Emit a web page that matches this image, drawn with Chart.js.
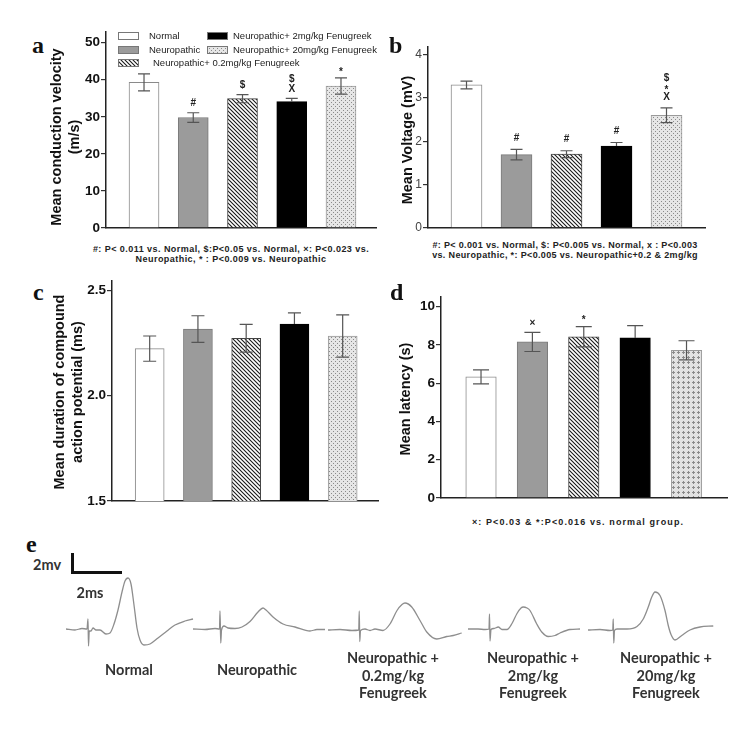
<!DOCTYPE html>
<html><head><meta charset="utf-8">
<script src="https://cdn.jsdelivr.net/npm/chart.js@4.4.1/dist/chart.umd.min.js"></script>
<style>
body{margin:0;background:#fff;width:748px;height:732px;position:relative;overflow:hidden;font-family:"Liberation Sans",Arial,sans-serif;}
canvas{position:absolute;}
.t{position:absolute;white-space:nowrap;color:#111;}
.lbl{font-family:"Liberation Serif","Times New Roman",serif;font-weight:bold;font-size:24px;line-height:24px;}
.yt{font-weight:bold;font-size:14.5px;transform:translate(-50%,-50%) rotate(-90deg);text-align:center;line-height:18px;}
.fn{font-weight:bold;font-size:9px;text-align:center;transform:translateX(-50%);line-height:10px;letter-spacing:0.45px;color:#222;}
.el{font-family:Lato,"Open Sans",sans-serif;font-weight:bold;font-size:14.5px;text-align:center;transform:translateX(-50%);line-height:17.5px;color:#333;}
.sb{position:absolute;background:#111;}
</style>
</head><body>
<canvas id="ca" width="317" height="217" style="left:61px;top:20px"></canvas>
<canvas id="cb" width="324" height="201" style="left:383px;top:35px"></canvas>
<canvas id="cc" width="313" height="241" style="left:67px;top:269px"></canvas>
<canvas id="cd" width="333" height="222" style="left:396px;top:285px"></canvas>

<canvas id="e0" width="140" height="80" style="left:66px;top:569px"></canvas>
<canvas id="e1" width="140" height="80" style="left:193px;top:569px"></canvas>
<canvas id="e2" width="140" height="80" style="left:328px;top:570px"></canvas>
<canvas id="e3" width="140" height="80" style="left:468px;top:569px"></canvas>
<canvas id="e4" width="140" height="80" style="left:588px;top:570px"></canvas>

<div class="t lbl" style="left:32px;top:33px">a</div>
<div class="t lbl" style="left:389px;top:33px">b</div>
<div class="t lbl" style="left:33px;top:280px">c</div>
<div class="t lbl" style="left:390px;top:280px">d</div>
<div class="t lbl" style="left:26px;top:532px">e</div>

<div class="t yt" style="left:65px;top:137px">Mean conduction velocity<br>(m/s)</div>
<div class="t yt" style="left:407px;top:140px">Mean Voltage (mV)</div>
<div class="t yt" style="left:68px;top:392px">Mean duration of compound<br>action potential (ms)</div>
<div class="t yt" style="left:405px;top:399px">Mean latency (s)</div>

<div class="t fn" style="left:231px;top:244px">#: P&lt; 0.011 vs. Normal, $:P&lt;0.05 vs. Normal, ×: P&lt;0.023 vs.<br>Neuropathic, * : P&lt;0.009 vs. Neuropathic</div>
<div class="t fn" style="left:565px;top:240px;letter-spacing:0.35px">#: P&lt; 0.001 vs. Normal, $: P&lt;0.005 vs. Normal, x : P&lt;0.003<br>vs. Neuropathic, *: P&lt;0.005 vs. Neuropathic+0.2 &amp; 2mg/kg</div>
<div class="t fn" style="left:578px;top:517px;letter-spacing:1.1px">×: P&lt;0.03 &amp; *:P&lt;0.016 vs. normal group.</div>

<div class="t el" style="left:33px;top:556px;transform:none">2mv</div>
<div class="t el" style="left:90px;top:584px">2ms</div>
<div class="sb" style="left:71px;top:553px;width:3px;height:21px"></div>
<div class="sb" style="left:71px;top:571px;width:51px;height:3px"></div>

<div class="t el" style="left:129px;top:661px">Normal</div>
<div class="t el" style="left:257px;top:661px">Neuropathic</div>
<div class="t el" style="left:393px;top:649px">Neuropathic +<br>0.2mg/kg<br>Fenugreek</div>
<div class="t el" style="left:533px;top:649px">Neuropathic +<br>2mg/kg<br>Fenugreek</div>
<div class="t el" style="left:666px;top:649px">Neuropathic +<br>20mg/kg<br>Fenugreek</div>

<script>
// ---------- data ----------
const categories = ["Normal", "Neuropathic", "Neuropathic+ 0.2mg/kg Fenugreek", "Neuropathic+ 2mg/kg Fenugreek", "Neuropathic+ 20mg/kg Fenugreek"];

const velocity = [39.3, 29.8, 34.9, 34.1, 38.3];
const velocityErr = [2.3, 1.3, 1.1, 0.9, 2.2];
const velocityMarks = ["", "#", "$", "$\nX", "*"];
const velocityTicks = [0, 10, 20, 30, 40, 50];
const velocityTickLabels = ["0", "10", "20", "30", "40", "50"];

const voltage = [3.30, 1.69, 1.70, 1.89, 2.60];
const voltageErr = [0.09, 0.12, 0.08, 0.08, 0.17];
const voltageMarks = ["", "#", "#", "#", "$\n*\nX"];
const voltageTicks = [0, 1, 2, 3, 4];
const voltageTickLabels = ["0", "1", "2", "3", "4"];

const duration = [2.223, 2.316, 2.272, 2.340, 2.283];
const durationErr = [0.060, 0.063, 0.066, 0.053, 0.100];
const durationMarks = ["", "", "", "", ""];
const durationTicks = [1.5, 2.0, 2.5];
const durationTickLabels = ["1.5", "2.0", "2.5"];

const latency = [6.33, 8.16, 8.43, 8.37, 7.72];
const latencyErr = [0.37, 0.50, 0.53, 0.64, 0.50];
const latencyMarks = ["", "×", "*", "", ""];
const latencyTicks = [0, 2, 4, 6, 8, 10];
const latencyTickLabels = ["0", "2", "4", "6", "8", "10"];

// compound action potential traces (time in ms from trace start, amplitude in mV from baseline)
const normalT = [0, 0.36, 0.64, 0.84, 0.88, 0.9, 0.93, 1.0, 1.08, 1.2, 1.36, 1.6, 1.76, 1.92, 2.08, 2.24, 2.36, 2.48, 2.6, 2.72, 2.84, 2.96, 3.12, 3.36, 3.68, 4.04, 4.36, 4.76, 5.08];
const normalV = [0, -0.1, 0.05, 0, 1.0, -1.7, -0.2, -0.2, 0.1, -0.1, -0.1, -0.5, -0.4, 0.5, 1.9, 3.7, 4.8, 5.1, 4.5, 2.4, 0.1, -1.1, -1.6, -1.5, -0.9, -0.2, 0.4, 0.8, 1.0];
const neuroT = [0, 0.48, 0.88, 1.06, 1.08, 1.11, 1.14, 1.24, 1.4, 1.68, 1.96, 2.28, 2.6, 2.8, 2.92, 3.2, 3.6, 4.08, 4.68, 4.96, 5.28];
const neuroV = [0, -0.05, 0.05, 0, 1.8, -1.4, -0.1, 0.3, 0.1, 0.05, 0.2, 0.75, 1.7, 2.1, 1.9, 1.2, 0.5, 0.2, -0.2, -0.05, -0.05];
const low02T = [0, 0.48, 0.96, 1.23, 1.25, 1.27, 1.3, 1.48, 1.68, 1.88, 2.2, 2.48, 2.76, 2.96, 3.08, 3.35, 3.68, 3.95, 4.35, 4.75, 5.01, 5.35];
const low02V = [0, 0.05, -0.05, 0, 1.9, -1.15, -0.05, 0.1, -0.05, 0.1, -0.05, 0.6, 1.95, 2.55, 2.7, 2.3, 0.95, -0.2, -0.9, -0.65, -0.55, -0.3];
const mid2T = [0, 0.4, 0.68, 0.84, 0.86, 0.88, 0.92, 1.04, 1.21, 1.36, 1.56, 1.76, 1.96, 2.12, 2.21, 2.36, 2.48, 2.75, 2.95, 3.21, 3.48, 3.68, 4.08, 4.48];
const mid2V = [0, 0, -0.05, 0, 1.5, -1.2, -0.05, 0.05, 0.2, -0.05, -0.05, 0.55, 1.55, 2.1, 2.2, 2.1, 1.85, 0.5, -0.3, -0.75, -0.65, -0.4, -0.05, 0];
const high20T = [0, 0.48, 0.88, 0.99, 1.01, 1.03, 1.06, 1.16, 1.56, 1.96, 2.21, 2.41, 2.55, 2.68, 2.88, 3.08, 3.21, 3.32, 3.48, 3.75, 4.08, 4.48, 5.01];
const high20V = [0, 0.05, -0.05, 0, 1.1, -1.3, -0.05, 0.1, 0.1, 0.35, 1.1, 2.3, 3.3, 3.8, 3.45, 1.95, 0.45, -0.45, -1.0, -0.55, 0, 0.3, 0.4];

// ---------- styles ----------
function makeTile(w, h, draw) {
  const c = document.createElement('canvas'); c.width = w; c.height = h;
  const g = c.getContext('2d'); draw(g);
  return document.createElement('canvas').getContext('2d').createPattern(c, 'repeat');
}
const hatch = makeTile(4, 4, g => {
  g.fillStyle = '#fff'; g.fillRect(0, 0, 4, 4);
  g.strokeStyle = '#1a1a1a'; g.lineWidth = 1.1;
  g.beginPath(); g.moveTo(-1, -1); g.lineTo(5, 5); g.moveTo(-1, 3); g.lineTo(1, 5); g.moveTo(3, -1); g.lineTo(5, 1); g.stroke();
});
const dots = makeTile(4, 4, g => {
  g.fillStyle = '#e6e6e6'; g.fillRect(0, 0, 4, 4);
  g.fillStyle = '#8a8a8a'; g.fillRect(0, 0, 1, 1); g.fillRect(2, 2, 1, 1);
});
const crosses = makeTile(5, 5, g => {
  g.fillStyle = '#e2e2e2'; g.fillRect(0, 0, 5, 5);
  g.fillStyle = '#8a8a8a'; g.fillRect(2, 1, 1, 3); g.fillRect(1, 2, 3, 1);
});
const BLACK = '#000000';
const fillsStd = ['#ffffff', '#9b9b9b', hatch, BLACK, dots];
const fillsD = ['#ffffff', '#9b9b9b', hatch, BLACK, crosses];
const borders = ['#8a8a8a', '#7a7a7a', '#444444', BLACK, '#9a9a9a'];

// ---------- plugins ----------
const errPlugin = {
  id: 'err',
  afterDatasetsDraw(chart, args, o) {
    const meta = chart.getDatasetMeta(0), ys = chart.scales.y, ctx = chart.ctx;
    const ds = chart.data.datasets[0];
    ctx.save();
    meta.data.forEach((bar, i) => {
      const v = ds.data[i].y, e = o.err[i], x = bar.x;
      const yt = ys.getPixelForValue(v + e), yb = ys.getPixelForValue(v - e), yv = ys.getPixelForValue(v);
      ctx.strokeStyle = o.color; ctx.lineWidth = 1.2;
      ctx.beginPath();
      ctx.moveTo(x, yt); ctx.lineTo(x, yv);
      ctx.moveTo(x - o.cap, yt); ctx.lineTo(x + o.cap, yt);
      if (ds.backgroundColor[i] !== BLACK) {
        ctx.moveTo(x, yv); ctx.lineTo(x, yb);
        ctx.moveTo(x - o.cap, yb); ctx.lineTo(x + o.cap, yb);
      }
      ctx.stroke();
      const m = o.marks[i];
      if (m) {
        const arr = m.split('\n');
        ctx.fillStyle = '#222'; ctx.font = o.markFont; ctx.textAlign = 'center'; ctx.textBaseline = 'middle';
        arr.forEach((s, k) => {
          const dy = s === '*' ? 3 : 0; // asterisk glyph sits high in the line box
          ctx.fillText(s, x, yt - o.gap - (arr.length - 1 - k) * o.step + dy);
        });
      }
    });
    ctx.restore();
  }
};
const legendPlugin = {
  id: 'boxLegend',
  afterDraw(chart, args, o) {
    const ctx = chart.ctx, ds = chart.data.datasets[0];
    ctx.save();
    o.items.forEach(it => {
      ctx.fillStyle = ds.backgroundColor[it.i];
      ctx.fillRect(it.x, it.y, 21, 8);
      ctx.strokeStyle = '#777'; ctx.lineWidth = 1;
      ctx.strokeRect(it.x + 0.5, it.y + 0.5, 20, 7);
      ctx.fillStyle = '#222'; ctx.font = '9.5px "Liberation Sans", Arial, sans-serif';
      ctx.textBaseline = 'middle'; ctx.textAlign = 'left';
      ctx.fillText(categories[it.i], it.tx, it.y + 4.5);
    });
    ctx.restore();
  }
};

function barChart(id, o) {
  return new Chart(document.getElementById(id).getContext('2d'), {
    type: 'bar',
    data: { datasets: [{
      label: o.name,
      data: o.values.map((v, i) => ({ x: i, y: v })),
      backgroundColor: o.fills, borderColor: borders, borderWidth: 1,
      barThickness: o.bar, borderSkipped: 'bottom'
    }] },
    options: {
      responsive: false, animation: false, events: [],
      layout: { padding: { top: 12, right: 2, bottom: 4, left: 0 } },
      plugins: {
        legend: { display: false }, tooltip: { enabled: false },
        err: { err: o.err, marks: o.marks, cap: o.cap, color: '#555', gap: o.gap, step: o.step, markFont: 'bold 10px "Liberation Sans", Arial, sans-serif' },
        boxLegend: o.legend || false
      },
      scales: {
        x: { type: 'linear', offset: false, min: o.xmin, max: o.xmax, ticks: { display: false }, grid: { display: false, offset: false },
             border: { color: '#222', width: 1.5 }, afterFit: s => { s.height = 0; } },
        y: { min: o.ymin, max: o.ymax,
             afterBuildTicks: s => { s.ticks = o.ticks.map(v => ({ value: v })); },
             ticks: { callback: (v, i) => o.tickLabels[i], font: o.tickFont, color: o.tickColor, padding: 1 },
             grid: { drawOnChartArea: false, drawTicks: true, tickLength: 5, color: '#333', lineWidth: 1.2 },
             border: { color: '#222', width: 1.5 },
             afterFit: s => { s.width = 45; } }
      }
    },
    plugins: [errPlugin, legendPlugin]
  });
}

const boldTick = { family: '"Liberation Sans", Arial, sans-serif', size: 13.5, weight: 'bold' };

barChart('ca', { name: 'Mean conduction velocity', values: velocity, err: velocityErr, marks: velocityMarks,
  ticks: velocityTicks, tickLabels: velocityTickLabels, ymin: 0, ymax: 52.9, xmin: -0.772, xmax: 4.711,
  bar: 30, cap: 6, gap: 9, step: 10.5, fills: fillsStd, tickFont: boldTick, tickColor: '#111',
  legend: { items: [
    { i: 0, x: 57, y: 12, tx: 88 }, { i: 3, x: 146, y: 12, tx: 172 },
    { i: 1, x: 57, y: 26, tx: 88 }, { i: 4, x: 146, y: 26, tx: 172 },
    { i: 2, x: 57, y: 39, tx: 92 } ] } });

barChart('cb', { name: 'Mean Voltage', values: voltage, err: voltageErr, marks: voltageMarks,
  ticks: voltageTicks, tickLabels: voltageTickLabels, ymin: 0, ymax: 4.176, xmin: -0.77, xmax: 4.77,
  bar: 31, cap: 6, gap: 11, step: 9.5, fills: fillsStd,
  tickFont: { family: '"Liberation Sans", Arial, sans-serif', size: 12 }, tickColor: '#444' });

barChart('cc', { name: 'Mean duration of compound action potential', values: duration, err: durationErr, marks: durationMarks,
  ticks: durationTicks, tickLabels: durationTickLabels, ymin: 1.5, ymax: 2.544, xmin: -0.781, xmax: 4.732,
  bar: 29, cap: 6.5, gap: 9, step: 10, fills: fillsStd, tickFont: boldTick, tickColor: '#111' });

barChart('cd', { name: 'Mean latency', values: latency, err: latencyErr, marks: latencyMarks,
  ticks: latencyTicks, tickLabels: latencyTickLabels, ymin: 0, ymax: 10.51, xmin: -0.779, xmax: 4.788,
  bar: 30.5, cap: 8, gap: 9.5, step: 10, fills: fillsD, tickFont: boldTick, tickColor: '#111' });

function trace(id, t, v) {
  new Chart(document.getElementById(id).getContext('2d'), {
    type: 'line',
    data: { datasets: [{ data: t.map((x, i) => ({ x: x, y: v[i] })), borderColor: '#8e8e8e', borderWidth: 1.3,
      pointRadius: 0, cubicInterpolationMode: 'monotone', fill: false, clip: false }] },
    options: { responsive: false, animation: false, events: [], layout: { padding: 0 },
      plugins: { legend: { display: false }, tooltip: { enabled: false } },
      scales: { x: { type: 'linear', min: 0, max: 5.6, display: false }, y: { min: -2, max: 6, display: false } } }
  });
}
trace('e0', normalT, normalV);
trace('e1', neuroT, neuroV);
trace('e2', low02T, low02V);
trace('e3', mid2T, mid2V);
trace('e4', high20T, high20V);
</script>
</body></html>
